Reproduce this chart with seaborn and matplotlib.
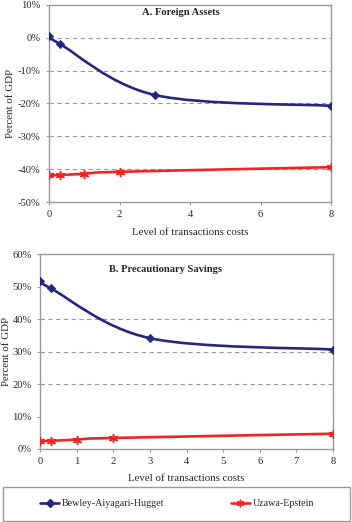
import numpy as np
import pandas as pd
import matplotlib
matplotlib.use("Agg")
import matplotlib.pyplot as plt
import seaborn as sns
from matplotlib.path import Path
from matplotlib.patches import PathPatch, Rectangle
from matplotlib.lines import Line2D
from matplotlib.ticker import FuncFormatter

# =============================================================================
# Dados
# =============================================================================

series = ['Bewley-Aiyagari-Hugget', 'Uzawa-Epstein']

# A. Foreign Assets (percent of GDP)
fa_bah_x = [0, 0.3, 3, 8]
fa_bah_y = [0.5, -1.8, -17.4, -20.7]
fa_ue_x = [0, 0.3, 1, 2, 8]
fa_ue_y = [-41.9, -41.8, -41.4, -40.8, -39.4]

# B. Precautionary Savings (percent of GDP)
ps_bah_x = [0, 0.3, 3, 8]
ps_bah_y = [51.8, 49.4, 34.1, 30.6]
ps_ue_x = [0, 0.3, 1, 2, 8]
ps_ue_y = [2.4, 2.5, 2.9, 3.4, 4.7]

fa_yticks = [10, 0, -10, -20, -30, -40, -50]
fa_grid = [0, -10, -20, -30, -40]
fa_xticks = [0, 2, 4, 6, 8]
ps_yticks = [0, 10, 20, 30, 40, 50, 60]
ps_grid = [20, 30, 40]
ps_xticks = [0, 1, 2, 3, 4, 5, 6, 7, 8]

azul = '#262680'
vermelho = '#f52222'
cinza = '#9a9a9a'

# =============================================================================
# Estilo
# =============================================================================

sns.set_style('white')
plt.rcParams['font.family'] = ['Liberation Serif', 'DejaVu Serif']
plt.rcParams['axes.unicode_minus'] = False

estrela = (6, 2, 0)


def linha_suave(ax, xs, ys, cor):
    # curva suavizada (bezier, estilo Excel) passando pelos pontos
    p = np.column_stack([xs, ys]).astype(float)
    n = len(p)
    verts = [p[0]]
    codes = [Path.MOVETO]
    for i in range(n - 1):
        p0 = p[i - 1] if i > 0 else p[i]
        p1 = p[i]
        p2 = p[i + 1]
        p3 = p[i + 2] if i + 2 < n else p[i + 1]
        c1 = p1 + (p2 - p0) / 6
        c2 = p2 - (p3 - p1) / 6
        verts += [c1, c2, p2]
        codes += [Path.CURVE4] * 3
    patch = PathPatch(Path(verts, codes), facecolor='none', edgecolor=cor,
                      lw=1.9, capstyle='round', joinstyle='round', zorder=3)
    ax.add_patch(patch)


def desenha(ax, bx, by, ux, uy, yticks, grid, xticks, titulo, tx, ty):
    for g in grid:
        ax.axhline(g, color=cinza, lw=0.8, ls=(0, (4, 3)), zorder=1)
    linha_suave(ax, bx, by, azul)
    linha_suave(ax, ux, uy, vermelho)
    sns.scatterplot(x=bx, y=by, ax=ax, marker='D', s=18, color=azul,
                    edgecolor=azul, linewidth=0.5, zorder=4, legend=False)
    sns.scatterplot(x=ux, y=uy, ax=ax, marker=estrela, s=32, color=vermelho,
                    edgecolor=vermelho, linewidth=1.1, zorder=4, legend=False)
    ax.set_xlim(xticks[0], xticks[-1])
    ax.set_ylim(min(yticks), max(yticks))
    ax.set_xticks(xticks)
    ax.set_yticks(yticks)
    ax.yaxis.set_major_formatter(FuncFormatter(lambda v, p: '%d%%' % v))
    ax.tick_params(axis='both', direction='out', length=2.5, width=0.8,
                   color=cinza, labelsize=7.6, pad=3.5, left=True, bottom=True)
    for s in ax.spines.values():
        s.set_color(cinza)
        s.set_linewidth(1.0)
    ax.set_xlabel('Level of transactions costs', fontsize=7.8)
    ax.set_ylabel('Percent of GDP', fontsize=7.8)
    ax.text(tx, ty, titulo, transform=ax.transAxes, ha='center', va='center',
            fontsize=7.6, fontweight='bold')


fig = plt.figure(figsize=(3.52, 5.22), dpi=100)

ax1 = fig.add_axes([49 / 352, 1 - 202 / 522, 282 / 352, 197 / 522])
desenha(ax1, fa_bah_x, fa_bah_y, fa_ue_x, fa_ue_y, fa_yticks, fa_grid,
        fa_xticks, 'A. Foreign Assets', 0.468, 0.964)
ax1.yaxis.set_label_coords(-0.12, 0.5)
ax1.xaxis.set_label_coords(0.5, -0.13)

ax2 = fig.add_axes([40 / 352, 1 - 449 / 522, 293 / 352, 195 / 522])
desenha(ax2, ps_bah_x, ps_bah_y, ps_ue_x, ps_ue_y, ps_yticks, ps_grid,
        ps_xticks, 'B. Precautionary Savings', 0.427, 0.923)
ax2.yaxis.set_label_coords(-0.1, 0.5)
ax2.xaxis.set_label_coords(0.5, -0.13)

# legenda com moldura
fig.patches.append(Rectangle((3 / 352, 1 / 522), 347 / 352, 34 / 522,
                             transform=fig.transFigure, facecolor='white',
                             edgecolor=cinza, lw=1.0))
handles = [Line2D([], [], color=azul, lw=1.9, marker='D', markersize=4),
           Line2D([], [], color=vermelho, lw=1.9, marker=estrela,
                  markersize=5.5, markeredgewidth=1.1)]
fig.legend(handles, series, loc='center', bbox_to_anchor=(177 / 352, 18 / 522),
           ncol=2, frameon=False, fontsize=7.2, handlelength=1.9,
           handletextpad=0.3, columnspacing=6.6)

fig.savefig('out.png', dpi=100)
